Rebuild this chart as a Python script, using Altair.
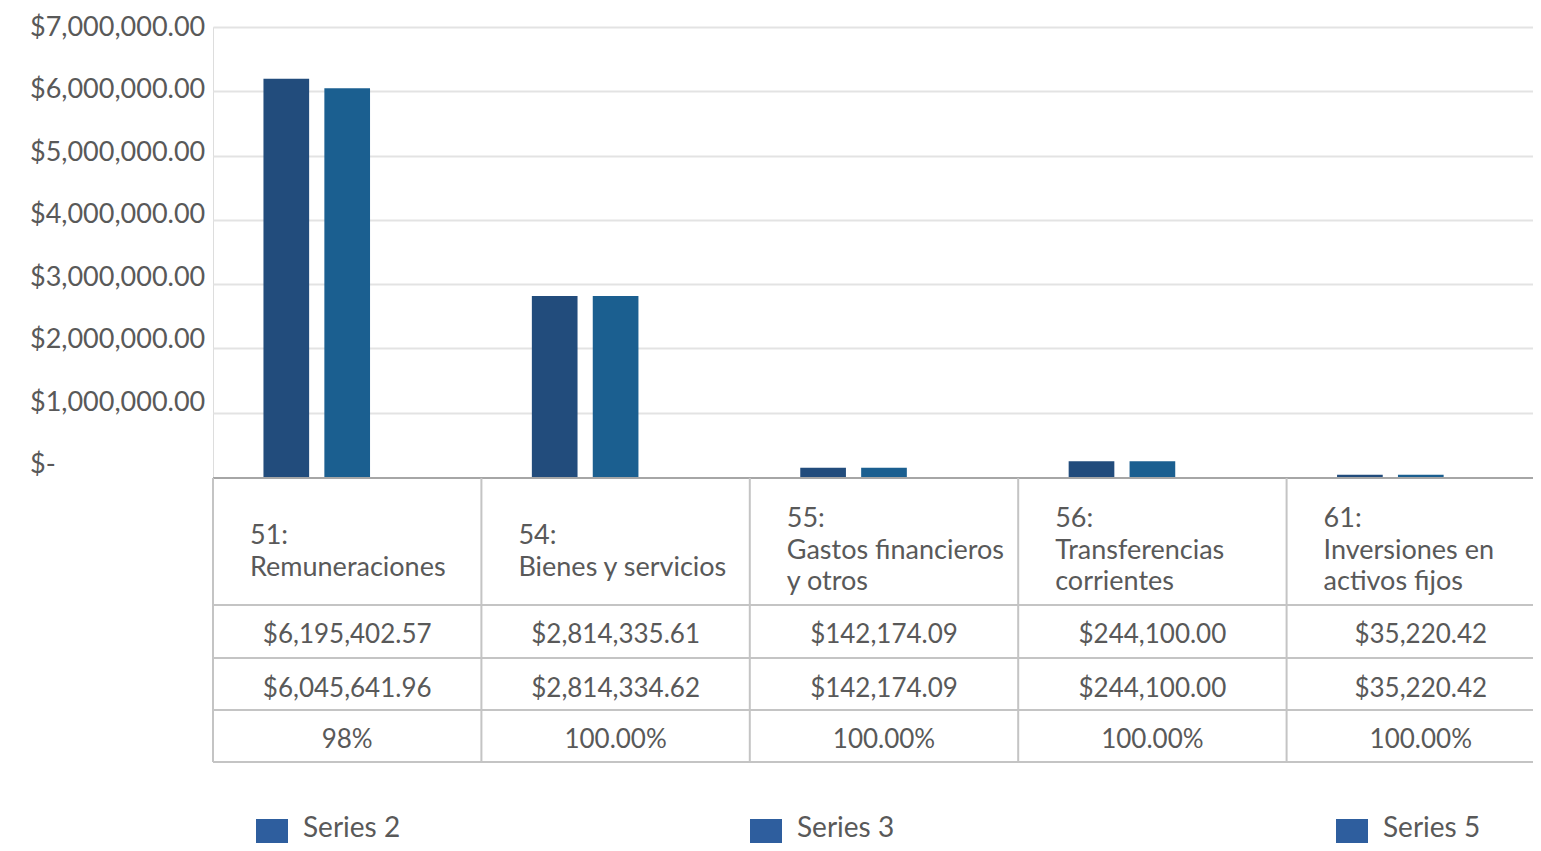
import altair as alt
import pandas as pd

# ---- data ----
categories = ["51", "54", "55", "56", "61"]
headers = [
    "51:\nRemuneraciones",
    "54:\nBienes y servicios",
    "55:\nGastos financieros\n\u00a0\u00a0y otros",
    "56:\nTransferencias\ncorrientes",
    "61:\nInversiones en\n\u00a0\u00a0activos fijos",
]
series2 = [6195402.57, 2814335.61, 142174.09, 244100.00, 35220.42]
series3 = [6045641.96, 2814334.62, 142174.09, 244100.00, 35220.42]
series5 = [0.98, 1.00, 1.00, 1.00, 1.00]
series5_text = ["98%", "100.00%", "100.00%", "100.00%", "100.00%"]
series_names = ["Series 2", "Series 3", "Series 5"]
tick_values = [0, 1000000, 2000000, 3000000, 4000000, 5000000, 6000000, 7000000]
tick_labels = ["$-", "$1,000,000.00", "$2,000,000.00", "$3,000,000.00",
               "$4,000,000.00", "$5,000,000.00", "$6,000,000.00", "$7,000,000.00"]

# ---- styling ----
W, H = 1342, 450
STEP = W / len(categories)
FONT = "Lato"
TXT = "#595959"
LINE = "#c4c4c4"
BAR_COLORS = ["#224C7C", "#1B5F90", "#2E5E9E"]
LEGEND_COLOR = "#2E5E9E"

bars_df = pd.DataFrame({
    "cat": categories * 3,
    "series": [s for s in series_names for _ in categories],
    "value": series2 + series3 + series5,
})
table_df = pd.DataFrame({
    "cat": categories,
    "header": headers,
    "s2": [f"${v:,.2f}" for v in series2],
    "s3": [f"${v:,.2f}" for v in series3],
    "s5": series5_text,
})
ticks_df = pd.DataFrame({"v": tick_values, "lbl": tick_labels})
one = pd.DataFrame({"k": [0]})

x_scale = alt.Scale(domain=categories, paddingInner=0.376, paddingOuter=0.188)


def xcat():
    return alt.X("cat:N", scale=x_scale, axis=None, bandPosition=0.5)


bars = alt.Chart(bars_df).mark_bar().encode(
    x=alt.X("cat:N", scale=x_scale, axis=None),
    xOffset=alt.XOffset("series:N", scale=alt.Scale(domain=series_names, paddingInner=0.25, paddingOuter=0)),
    y=alt.Y("value:Q", scale=alt.Scale(domain=[0, 7000000], nice=False),
            axis=alt.Axis(values=tick_values[1:], labels=False, ticks=False, domain=False,
                          grid=True, gridColor="#e3e3e3", gridWidth=2, title=None)),
    color=alt.Color("series:N", scale=alt.Scale(domain=series_names, range=BAR_COLORS), legend=None),
)

ylabels = alt.Chart(ticks_df).mark_text(
    align="left", baseline="middle", font=FONT, fontSize=27, color=TXT
).encode(
    x=alt.value(-183),
    y=alt.Y("v:Q", scale=alt.Scale(domain=[0, 7000000], range=[438, 1], nice=False), axis=None),
    text="lbl:N",
)

layers = [bars, ylabels]

# horizontal table lines
layers.append(alt.Chart(one).mark_rule(color="#a6a6a6", strokeWidth=2).encode(
    x=alt.value(0), x2=alt.value(W), y=alt.value(451)))
for yy in [578, 631, 683, 735]:
    layers.append(alt.Chart(one).mark_rule(color=LINE, strokeWidth=2).encode(
        x=alt.value(0), x2=alt.value(W), y=alt.value(yy)))

# vertical table lines
layers.append(alt.Chart(table_df).mark_rule(color=LINE, strokeWidth=2, xOffset=-STEP / 2).encode(
    x=xcat(), y=alt.value(451), y2=alt.value(735)))

# header text (block centred vertically: first line placed by number of lines)
layers.append(alt.Chart(table_df).transform_calculate(
    nl="length(split(datum.header, '\\n'))"
).mark_text(
    align="left", baseline="middle", lineBreak="\n", lineHeight=31.5, dx=-STEP / 2 + 37,
    font=FONT, fontSize=27, color=TXT
).encode(
    x=xcat(),
    y=alt.Y("nl:Q", scale=alt.Scale(domain=[2, 3], range=[509, 492]), axis=None),
    text="header:N",
))

for field, yy in [("s2", 608), ("s3", 661.5), ("s5", 713)]:
    layers.append(alt.Chart(table_df).mark_text(
        align="center", baseline="middle", font=FONT, fontSize=26, color=TXT
    ).encode(x=xcat(), y=alt.value(yy), text=f"{field}:N"))

# legend
for name, px in zip(series_names, [59, 553, 1139]):
    ldf = pd.DataFrame({"lbl": [name]})
    layers.append(alt.Chart(ldf).mark_square(size=1024, color=LEGEND_COLOR, opacity=1).encode(
        x=alt.value(px), y=alt.value(808)))
    layers.append(alt.Chart(ldf).mark_text(
        align="left", baseline="middle", font=FONT, fontSize=28, color=TXT
    ).encode(x=alt.value(px + 31), y=alt.value(802), text="lbl:N"))

chart = alt.layer(*layers).resolve_scale(y="independent").properties(
    width=W, height=H,
    padding={"left": 205, "top": 19, "right": -22, "bottom": 366},
    autosize=alt.AutoSizeParams(type="none"),
).configure_view(stroke=None).configure(background="white")

chart.save("out.html", embed_options={"renderer": "svg", "actions": False})
